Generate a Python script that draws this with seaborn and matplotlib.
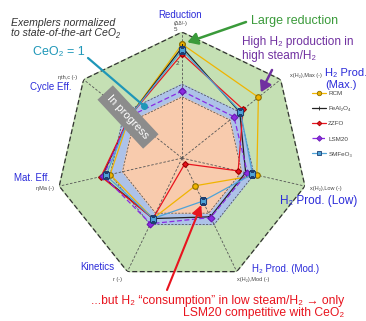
import numpy as np
import pandas as pd
import matplotlib
matplotlib.use("Agg")
import matplotlib.pyplot as plt
import seaborn as sns
from matplotlib.ticker import NullLocator
from matplotlib.lines import Line2D

sns.set_theme(style="white")
plt.rcParams["font.family"] = ["Liberation Sans", "DejaVu Sans"]

# Metrics around the radar (clockwise from the top)
metrics = ["Reduction", "H₂ Prod. (Max.)", "H₂ Prod. (Low)", "H₂ Prod. (Mod.)",
           "Kinetics", "Mat. Eff.", "Cycle Eff."]
metric_units = ["(Δδ/-)", "x(H₂),Max (-)", "x(H₂),Low (-)", "x(H₂),Mod (-)",
                "r (-)", "ηMa (-)", "ηth,c (-)"]

# Values normalized to CeO2 (= 1)
rcm = [3.6, 2.3, 1.3, 0.37, 1.0, 1.2, 1.0]
feal2o4 = [3.3, 1.2, 0.95, 0.95, 1.0, 1.5, 1.0]
zzfo = [2.75, 1.35, 0.77, 0.19, 1.0, 1.55, 1.0]
lsm20 = [1.0, 0.98, 1.0, 0.97, 1.17, 1.45, 1.0]
smfo = [3.05, 1.23, 1.15, 0.59, 1.0, 1.35, 1.0]
series_names = ["RCM", "FeAl₂O₄", "ZZFO", "LSM20", "SMFeO₃"]

radial_ticks = [0.2, 0.5, 1, 2, 5]
radial_max = 5.0
radial_min = 0.16
band_low, band_high = 0.85, 1.2

n = len(metrics)
theta = np.arange(n) * 2 * np.pi / n
theta_closed = np.append(theta, 2 * np.pi)

fig = plt.figure(figsize=(3.66, 3.21), dpi=100)
ax = fig.add_axes([0.153, 0.115, 0.689, 0.785], projection="polar")
ax.set_theta_offset(np.pi / 2)
ax.set_theta_direction(-1)
ax.set_rscale("log")
ax.set_rlim(radial_min, radial_max)
ax.grid(False)
ax.spines["polar"].set_visible(False)
ax.set_facecolor("none")
ax.set_xticks([])

def ring(value):
    return np.full(n + 1, value)

# Background zones: green (better than CeO2), blue band (CeO2), peach (worse)
ax.fill(theta_closed, ring(radial_max), color="#c5e0b4", zorder=0)
ax.plot(theta_closed, ring(radial_max), color="#333333", lw=0.9, ls=(0, (4, 2)), zorder=1)
ax.fill(theta_closed, ring(band_high), color="#adc2e8", zorder=1)
ax.fill(theta_closed, ring(band_low), color="#f8cbad", zorder=1)
ax.plot(theta_closed, ring(band_high), color="#444444", lw=0.5, ls=(0, (3, 2)), zorder=2)
ax.plot(theta_closed, ring(band_low), color="#444444", lw=0.5, ls=(0, (3, 2)), zorder=2)

# Spokes
for t in theta:
    ax.plot([t, t], [radial_min, radial_max], color="#555555", lw=0.6,
            ls=(0, (3, 2)), zorder=2)

# Radial tick labels along the top spoke
ax.set_yticks(radial_ticks)
ax.set_yticklabels([str(v) for v in radial_ticks], fontsize=4.5, color="#444444")
ax.yaxis.set_minor_locator(NullLocator())
ax.set_rlabel_position(-4)
ax.tick_params(axis="y", length=0, pad=0)

styles = [
    dict(color="#f0b400", marker="o", ms=4, mec="#8a6d00", ls="-"),
    dict(color="#222222", marker="+", ms=4, mec="#222222", ls="-"),
    dict(color="#e8141e", marker="D", ms=3, mec="#a00000", ls="-"),
    dict(color="#8a2be2", marker="D", ms=3.5, mec="#6a1bb0", ls=(0, (4, 2))),
    dict(color="#4ea3d8", marker="s", ms=4, mec="#1f3f70", ls="-"),
]
values = [rcm, feal2o4, zzfo, lsm20, smfo]

handles = []
for name, vals, st in zip(series_names, values, styles):
    df = pd.DataFrame({"theta": theta_closed, "value": np.append(vals, vals[0])})
    sns.lineplot(data=df, x="theta", y="value", ax=ax, sort=False, estimator=None,
                 color=st["color"], lw=0.9, linestyle=st["ls"], marker=st["marker"],
                 markersize=st["ms"], markeredgecolor=st["mec"], markerfacecolor=st["color"],
                 markeredgewidth=0.8, zorder=4)
    handles.append(Line2D([], [], color=st["color"], lw=0.9, ls=st["ls"], marker=st["marker"],
                          ms=st["ms"] * 0.8, mec=st["mec"], mfc=st["color"], mew=0.6, label=name))
ax.set_xlabel("")
ax.set_ylabel("")
ax.set_rlim(radial_min, radial_max)

fig.legend(handles=handles, loc="upper left", bbox_to_anchor=(312 / 366, 1 - 91 / 321),
           frameon=False, fontsize=4.5, handlelength=2.2, labelspacing=1.55,
           borderaxespad=0, borderpad=0, handletextpad=0.4, labelcolor="#444444")

def fx(px):
    return px / 366

def fy(py):
    return 1 - py / 321

blue = "#2b2bd9"
# Metric labels with their quantity below
fig.text(fx(180), fy(15), "Reduction", color=blue, fontsize=7, ha="center", va="center")
fig.text(fx(181), fy(24), metric_units[0], color="#444444", fontsize=4, ha="center", va="center")
fig.text(fx(325), fy(79), "H₂ Prod.\n(Max.)", color=blue, fontsize=8, ha="left", va="center",
         linespacing=1.15)
fig.text(fx(322), fy(76), metric_units[1], color="#444444", fontsize=4, ha="right", va="center")
fig.text(fx(280), fy(201), "H₂ Prod. (Low)", color=blue, fontsize=8.5, ha="left", va="center")
fig.text(fx(310), fy(189), metric_units[2], color="#444444", fontsize=4, ha="left", va="center")
fig.text(fx(252), fy(269), "H₂ Prod. (Mod.)", color=blue, fontsize=7, ha="left", va="center")
fig.text(fx(237), fy(279), metric_units[3], color="#444444", fontsize=4, ha="left", va="center")
fig.text(fx(114), fy(267), "Kinetics", color=blue, fontsize=7, ha="right", va="center")
fig.text(fx(113), fy(279), metric_units[4], color="#444444", fontsize=4, ha="left", va="center")
fig.text(fx(50), fy(178), "Mat. Eff.", color=blue, fontsize=7, ha="right", va="center")
fig.text(fx(54), fy(189), metric_units[5], color="#444444", fontsize=4, ha="right", va="center")
fig.text(fx(72), fy(87), "Cycle Eff.", color=blue, fontsize=7, ha="right", va="center")
fig.text(fx(77), fy(78), metric_units[6], color="#444444", fontsize=4, ha="right", va="center")

# Notes and call-outs
fig.text(fx(11), fy(28), "Exemplers normalized\nto state-of-the-art CeO₂", style="italic",
         color="#333333", fontsize=7.6, ha="left", va="center", linespacing=1.05)
teal = "#1f97b8"
fig.text(fx(33), fy(52), "CeO₂ = 1", color=teal, fontsize=9, ha="left", va="center")
fig.add_artist(Line2D([fx(88), fx(144)], [fy(58), fy(106)], color=teal, lw=1.6,
                      transform=fig.transFigure))
fig.add_artist(Line2D([fx(144)], [fy(106)], color=teal, marker="o", ms=4,
                      transform=fig.transFigure, zorder=6))

green = "#3a9a3a"
fig.text(fx(251), fy(21), "Large reduction", color=green, fontsize=9, ha="left", va="center")
ax.annotate("", xy=(theta[0], rcm[0]), xytext=(fx(246), fy(22)), textcoords="figure fraction",
            arrowprops=dict(arrowstyle="-|>,head_length=0.5,head_width=0.3", color=green, lw=1.8,
                            shrinkA=0, shrinkB=4), zorder=7)

purple = "#7030a0"
fig.text(fx(242), fy(49), "High H₂ production in\nhigh steam/H₂", color=purple, fontsize=8.5,
         ha="left", va="center", linespacing=1.15)
ax.annotate("", xy=(theta[1], rcm[1]), xytext=(fx(272), fy(70)), textcoords="figure fraction",
            arrowprops=dict(arrowstyle="-|>,head_length=0.5,head_width=0.3", color=purple, lw=1.8,
                            shrinkA=0, shrinkB=4), zorder=7)

red = "#e8141e"
fig.text(fx(344), fy(307), "...but H₂ \u201cconsumption\u201d in low steam/H₂ \u2192 only\n"
         "LSM20 competitive with CeO₂", color=red, fontsize=8.7, ha="right", va="center",
         multialignment="right", linespacing=1.1)
ax.annotate("", xy=(theta[3], smfo[3]), xytext=(fx(167), fy(290)), textcoords="figure fraction",
            arrowprops=dict(arrowstyle="-|>,head_length=0.5,head_width=0.25", color=red, lw=1.5,
                            shrinkA=0, shrinkB=3), zorder=7)

fig.text(fx(128), fy(117), "In progress", color="white", fontsize=8, rotation=-47,
         ha="center", va="center", rotation_mode="anchor",
         bbox=dict(boxstyle="square,pad=0.5", fc="#8c8c8c", ec="none"), zorder=8)

fig.savefig("out.png", dpi=100)
